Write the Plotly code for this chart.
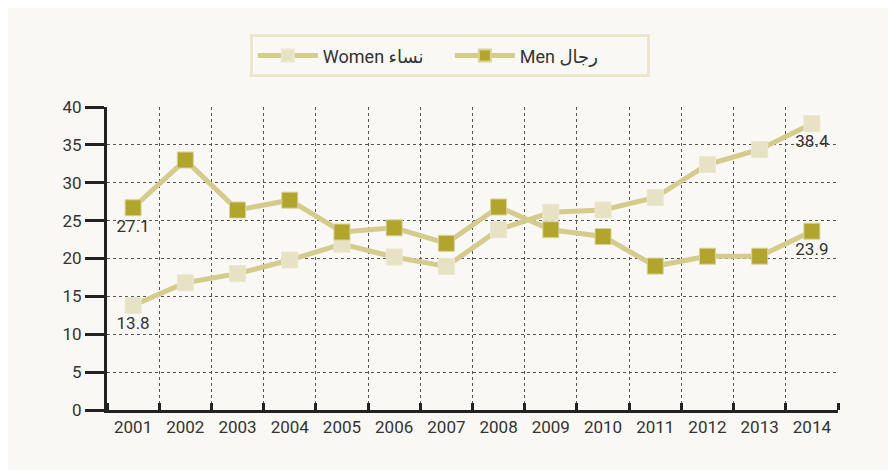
import plotly.graph_objects as go

years = ["2001", "2002", "2003", "2004", "2005", "2006", "2007",
         "2008", "2009", "2010", "2011", "2012", "2013", "2014"]
women = [13.8, 16.8, 18.0, 19.8, 21.9, 20.2, 18.95, 23.8, 26.1, 26.4, 28.05, 32.4, 34.4, 37.8]
men = [26.7, 33.0, 26.4, 27.7, 23.5, 24.05, 22.0, 26.8, 23.8, 22.9, 19.0, 20.3, 20.3, 23.6]
women_labels = ["13.8", "", "", "", "", "", "", "", "", "", "", "", "", "38.4"]
men_labels = ["27.1", "", "", "", "", "", "", "", "", "", "", "", "", "23.9"]
y_ticks = [0, 5, 10, 15, 20, 25, 30, 35, 40]

xpos = list(range(1, len(years) + 1))

LINE = "#d4cb8c"
FONT = "Roboto, 'DejaVu Sans', sans-serif"
BG = "#f9f8f4"
TXT = "#333333"

fig = go.Figure()
fig.add_trace(go.Scatter(
    x=xpos, y=women, name="Women نساء", mode="lines+markers+text",
    line=dict(color=LINE, width=5),
    marker=dict(symbol="square", size=16, color="#e6e2c3", line=dict(color="#ebe8cf", width=1)),
    text=women_labels, textposition="bottom center",
    textfont=dict(size=17, color=TXT, family=FONT),
    cliponaxis=False,
))
fig.add_trace(go.Scatter(
    x=xpos, y=men, name="Men رجال", mode="lines+markers+text",
    line=dict(color=LINE, width=5),
    marker=dict(symbol="square", size=16, color="#b2a52e", line=dict(color="#d9d29a", width=1)),
    text=men_labels, textposition="bottom center",
    textfont=dict(size=17, color=TXT, family=FONT),
    cliponaxis=False,
))

fig.update_layout(
    width=896, height=470,
    paper_bgcolor=BG, plot_bgcolor=BG,
    margin=dict(l=99, r=66, t=99, b=68),
    font=dict(family=FONT, size=16, color=TXT),
    showlegend=True,
    legend=dict(
        orientation="h", x=0.469, xanchor="center", y=1.24, yanchor="top",
        bgcolor=BG, bordercolor="#ece7cc", borderwidth=3,
        font=dict(size=18, color=TXT, family=FONT),
        itemsizing="constant", itemwidth=60,
        entrywidth=122, entrywidthmode="pixels",
    ),
    xaxis=dict(
        range=[0.5, 14.5], tickmode="array", tickvals=xpos, ticktext=years,
        ticks="", showgrid=False, zeroline=False,
        showline=True, linecolor="#222222", linewidth=3,
        tickfont=dict(size=17, color=TXT),
        minor=dict(tick0=0.5, dtick=1, ticks="inside", ticklen=7, tickwidth=3,
                   tickcolor="#222222", showgrid=True, gridcolor="#555555",
                   griddash="dot", gridwidth=1),
        fixedrange=True,
    ),
    yaxis=dict(
        range=[0, 40], tickmode="array", tickvals=y_ticks,
        ticks="outside", ticklen=19, tickwidth=3, tickcolor="#222222",
        showgrid=True, gridcolor="#555555", griddash="dot", gridwidth=1,
        zeroline=False, showline=True, linecolor="#222222", linewidth=3,
        tickfont=dict(size=17, color=TXT),
        fixedrange=True,
    ),
)

fig.write_html("out.html")
